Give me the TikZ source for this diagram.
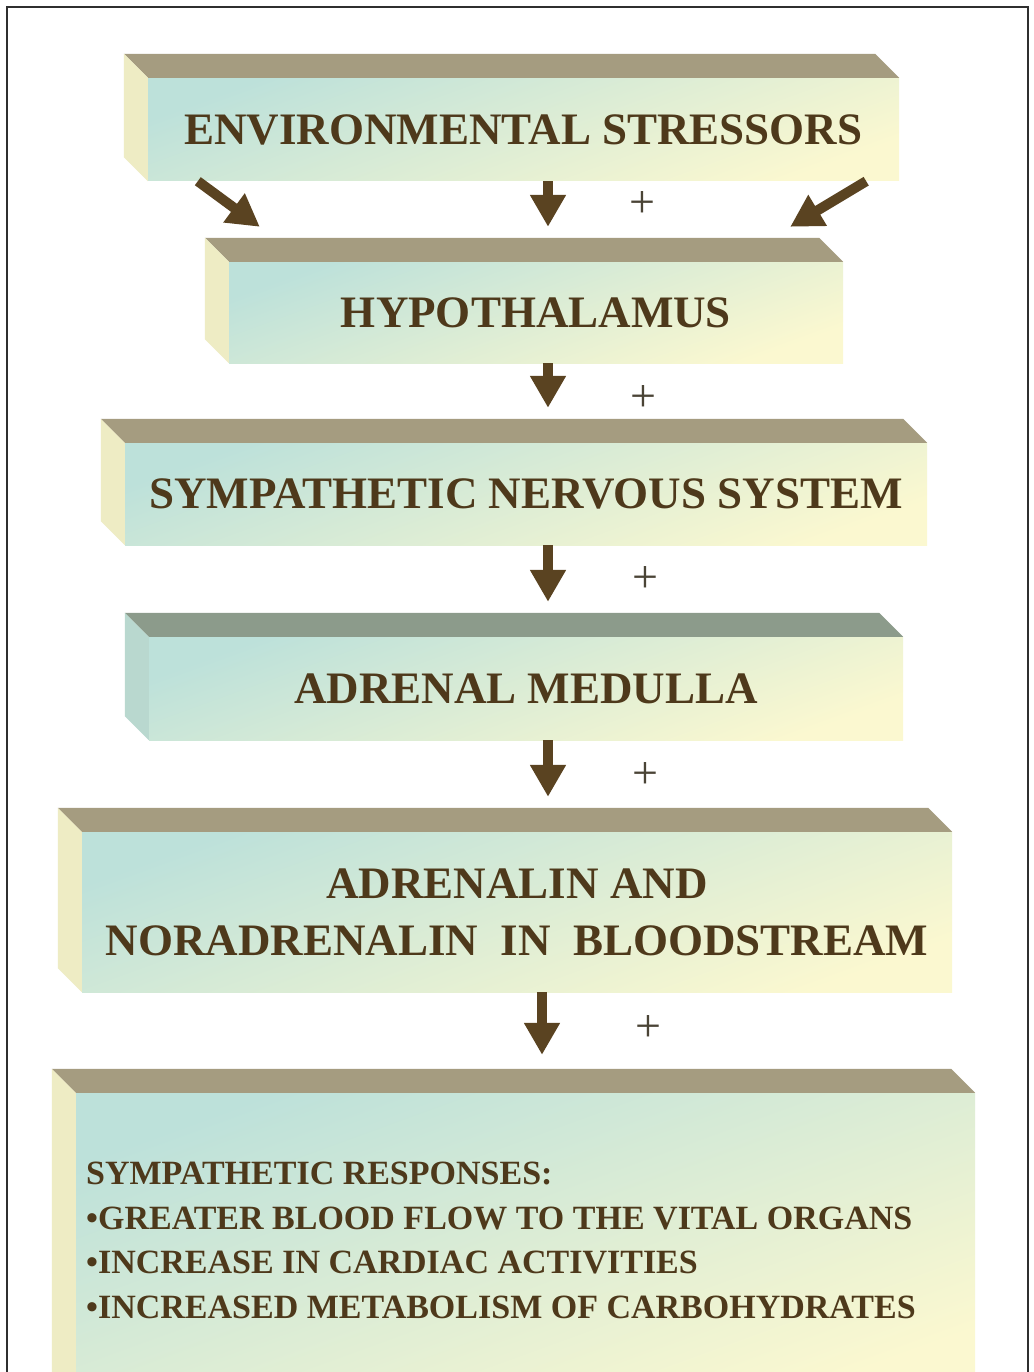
\documentclass[tikz,border=0pt]{standalone}
\usepackage{fontspec}
\setmainfont{Liberation Serif}
\usetikzlibrary{arrows.meta}
\newcommand{\Depth}{24}
\definecolor{Ink}{HTML}{4E391B}
\definecolor{Shaft}{HTML}{5A4321}
\definecolor{Lid}{HTML}{A59C80}
\definecolor{Flank}{HTML}{EEECC4}
\definecolor{LidCool}{HTML}{8C9B8B}
\definecolor{FlankCool}{HTML}{B9D8CF}
\definecolor{FaceAqua}{HTML}{BDE1DA}
\definecolor{FaceCream}{HTML}{FBF8D0}
\definecolor{Frame}{HTML}{2F2F2F}
\definecolor{Sign}{HTML}{4A4436}

% top and left faces of a slab, hung on the front node
\newcommand{\slabsides}[3]{%
  \fill[#2] (#1.north west) -- ++(-\Depth,-\Depth)
    -- ([shift={(-\Depth,-\Depth)}]#1.north east) -- (#1.north east) -- cycle;
  \fill[#3] (#1.north west) -- ++(-\Depth,-\Depth)
    -- ([shift={(-\Depth,-\Depth)}]#1.south west) -- (#1.south west) -- cycle;}

\tikzset{
  slab/.style={
    shading=axis, top color=FaceAqua, bottom color=FaceCream,
    shading angle=20, inner sep=0pt, align=center, text=Ink,
    font=\fontsize{45}{57}\selectfont\bfseries},
  flow/.style={draw=Shaft, line width=10pt,
    -{Triangle[length=32pt,width=34pt]}},
  sign/.style={text=Sign, font=\fontsize{46}{46}\selectfont}
}

\begin{document}
\begin{tikzpicture}[x=1pt,y=-1pt]

  \useasboundingbox (0,0) rectangle (1033,1372);
  \clip (0,0) rectangle (1033,1372);
  \fill[white] (0,0) rectangle (1033,1372);
  \draw[Frame, line width=1.6pt] (7,7) rectangle (1028,1400);

  \coordinate (spine) at (548,0);
  \coordinate (spinelow) at (542,0);

  \node[slab, minimum width=751pt, minimum height=103pt]
    (stressors) at (523.5,129.5) {ENVIRONMENTAL STRESSORS};
  \node[slab, minimum width=614pt, minimum height=101pt]
    (hypo) at (536,312.5) {HYPOTHALAMUS};
  \node[slab, minimum width=802pt, minimum height=102pt]
    (sns) at (526,494) {SYMPATHETIC NERVOUS SYSTEM};
  \node[slab, minimum width=754pt, minimum height=103pt]
    (medulla) at (526,688.5) {ADRENAL MEDULLA};
  \node[slab, minimum width=870pt, minimum height=160pt]
    (blood) at (517,912)
    {ADRENALIN AND\\NORADRENALIN\ \ IN\ \ BLOODSTREAM};
  \node[slab, minimum width=899pt, minimum height=307pt]
    (responses) at (525.5,1246.5) {};

  \slabsides{stressors}{Lid}{Flank}
  \slabsides{hypo}{Lid}{Flank}
  \slabsides{sns}{Lid}{Flank}
  \slabsides{medulla}{LidCool}{FlankCool}
  \slabsides{blood}{Lid}{Flank}
  \slabsides{responses}{Lid}{Flank}

  \node[
    anchor=west,
    inner sep=0pt,
    align=left,
    text=Ink,
    font=\fontsize{34}{44.5}\selectfont\bfseries
  ] (effects) at (86,1240.5)
    {SYMPATHETIC RESPONSES:\\
     •GREATER BLOOD FLOW TO THE VITAL ORGANS\\
     •INCREASE IN CARDIAC ACTIVITIES\\
     •INCREASED METABOLISM OF CARBOHYDRATES};

  \draw[flow] ([xshift=50pt]stressors.south west)
    -- ([shift={(31,-35)}]hypo.north west);
  \draw[flow] (stressors.south -| spine)
    -- ([yshift=35pt]hypo.north -| spine);
  \draw[flow] ([xshift=-33pt]stressors.south east)
    -- ([shift={(-53,-35)}]hypo.north east);
  \draw[flow] (hypo.south -| spine) -- ([yshift=35pt]sns.north -| spine);
  \draw[flow] (sns.south -| spine) -- ([yshift=35pt]medulla.north -| spine);
  \draw[flow] (medulla.south -| spine) -- ([yshift=35pt]blood.north -| spine);
  \draw[flow] (blood.south -| spinelow)
    -- ([yshift=38pt]responses.north -| spinelow);

  \node[sign] (plus1) at (642,205) {+};
  \node[sign] (plus2) at (643,399) {+};
  \node[sign] (plus3) at (645,580) {+};
  \node[sign] (plus4) at (645,775) {+};
  \node[sign] (plus5) at (648,1028) {+};

\end{tikzpicture}
\end{document}
